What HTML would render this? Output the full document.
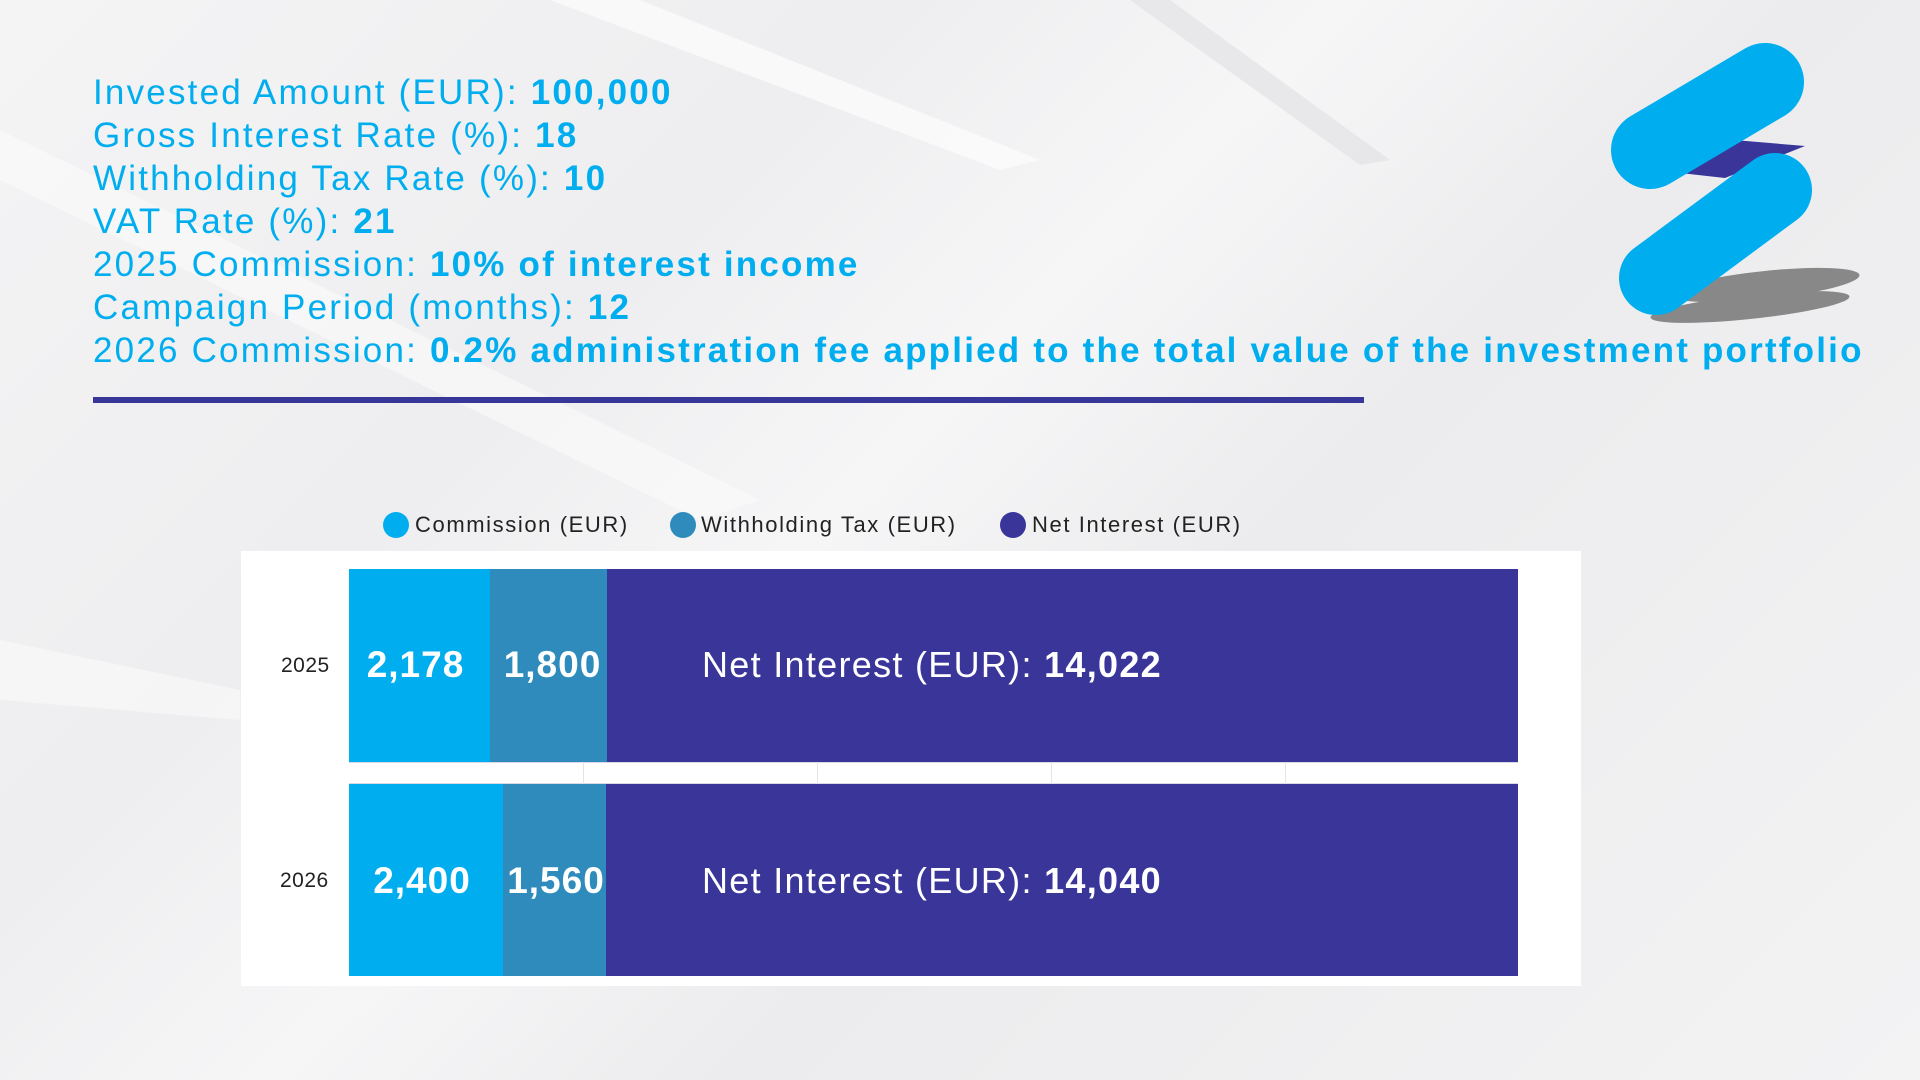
<!DOCTYPE html>
<html><head><meta charset="utf-8"><style>
body{margin:0;width:1920px;height:1080px;overflow:hidden;position:relative;font-family:"Liberation Sans",sans-serif;
background:linear-gradient(135deg,#f4f4f5 0%,#eeeef0 30%,#f6f6f7 45%,#ececee 60%,#f3f3f4 100%);}
.t{position:absolute;left:93px;color:#00aeef;font-size:35px;line-height:43px;white-space:nowrap;letter-spacing:2.2px}
.t b{font-weight:bold}
.a{position:absolute}
.lg{font-size:22px;color:#222;letter-spacing:1.6px}
.nv{font-size:36px;color:#fff;letter-spacing:1.3px}
</style></head><body>
<svg class="a" style="left:0;top:0" width="1920" height="1080">
<polygon points="0,130 0,180 700,520 760,500" fill="#fafafa" opacity="0.7"/>
<polygon points="550,0 640,0 1040,160 1000,170" fill="#fbfbfb" opacity="0.8"/>
<polygon points="1130,0 1170,0 1390,160 1360,165" fill="#e2e2e6" opacity="0.7"/>
<polygon points="0,640 0,700 240,720 240,690" fill="#fafafa" opacity="0.6"/>
</svg>
<div class="t" style="top:71px">Invested Amount (EUR): <b>100,000</b></div>
<div class="t" style="top:114px">Gross Interest Rate (%): <b>18</b></div>
<div class="t" style="top:157px">Withholding Tax Rate (%): <b>10</b></div>
<div class="t" style="top:200px">VAT Rate (%): <b>21</b></div>
<div class="t" style="top:243px">2025 Commission: <b>10% of interest income</b></div>
<div class="t" style="top:286px">Campaign Period (months): <b>12</b></div>
<div class="t" style="top:329px">2026 Commission: <b>0.2% administration fee applied to the total value of the investment portfolio</b></div>
<div class="a" style="left:93px;top:397px;width:1271px;height:6px;background:#3a3699"></div>

<svg class="a" style="left:1560px;top:20px" width="360" height="320">
<ellipse cx="205" cy="265" rx="95" ry="14" fill="#888" transform="rotate(-6 205 265)"/>
<ellipse cx="190" cy="287" rx="100" ry="12" fill="#888" transform="rotate(-6 190 287)"/>
<polygon points="75,148 150,118 245,126 165,158" fill="#3a3699"/>
<line x1="90" y1="130" x2="205" y2="62" stroke="#00aeef" stroke-width="78" stroke-linecap="round"/>
<line x1="96" y1="258" x2="215" y2="170" stroke="#00aeef" stroke-width="74" stroke-linecap="round"/>
</svg>

<div class="a" style="left:383px;top:512px;width:26px;height:26px;border-radius:50%;background:#00aeef"></div>
<div class="a lg" style="left:415px;top:512px">Commission (EUR)</div>
<div class="a" style="left:670px;top:512px;width:26px;height:26px;border-radius:50%;background:#2e8bbb"></div>
<div class="a lg" style="left:701px;top:512px">Withholding Tax (EUR)</div>
<div class="a" style="left:1000px;top:512px;width:26px;height:26px;border-radius:50%;background:#3a3699"></div>
<div class="a lg" style="left:1032px;top:512px">Net Interest (EUR)</div>

<div class="a" style="left:241px;top:551px;width:1340px;height:435px;background:#fff"></div>
<div class="a" style="left:349px;top:762px;width:1169px;height:20px;border-top:1px solid #d8d8e8;border-bottom:1px solid #d8d8e8"></div>
<div class="a" style="left:583px;top:762px;width:1px;height:22px;background:#e4e4e4"></div>
<div class="a" style="left:817px;top:762px;width:1px;height:22px;background:#e4e4e4"></div>
<div class="a" style="left:1051px;top:762px;width:1px;height:22px;background:#e4e4e4"></div>
<div class="a" style="left:1285px;top:762px;width:1px;height:22px;background:#e4e4e4"></div>

<div class="a" style="left:349px;top:569px;width:141px;height:193px;background:#00aeef"></div>
<div class="a" style="left:490px;top:569px;width:117px;height:193px;background:#2e8bbb"></div>
<div class="a" style="left:607px;top:569px;width:911px;height:193px;background:#3a3699"></div>
<div class="a" style="left:349px;top:784px;width:154px;height:192px;background:#00aeef"></div>
<div class="a" style="left:503px;top:784px;width:103px;height:192px;background:#2e8bbb"></div>
<div class="a" style="left:606px;top:784px;width:912px;height:192px;background:#3a3699"></div>

<div class="a" style="left:281px;top:654px;font-size:21px;color:#222;letter-spacing:0.5px">2025</div>
<div class="a" style="left:280px;top:869px;font-size:21px;color:#222;letter-spacing:0.5px">2026</div>
<div class="a" style="left:345px;top:644px;width:141px;text-align:center;font-size:37px;font-weight:bold;color:#fff;letter-spacing:1px">2,178</div>
<div class="a" style="left:490px;top:644px;width:125px;text-align:center;font-size:37px;font-weight:bold;color:#fff;letter-spacing:1px">1,800</div>
<div class="a nv" style="left:702px;top:644px">Net Interest (EUR): <b>14,022</b></div>
<div class="a" style="left:345px;top:860px;width:154px;text-align:center;font-size:37px;font-weight:bold;color:#fff;letter-spacing:1px">2,400</div>
<div class="a" style="left:500px;top:860px;width:112px;text-align:center;font-size:37px;font-weight:bold;color:#fff;letter-spacing:1px">1,560</div>
<div class="a nv" style="left:702px;top:860px">Net Interest (EUR): <b>14,040</b></div>
</body></html>
